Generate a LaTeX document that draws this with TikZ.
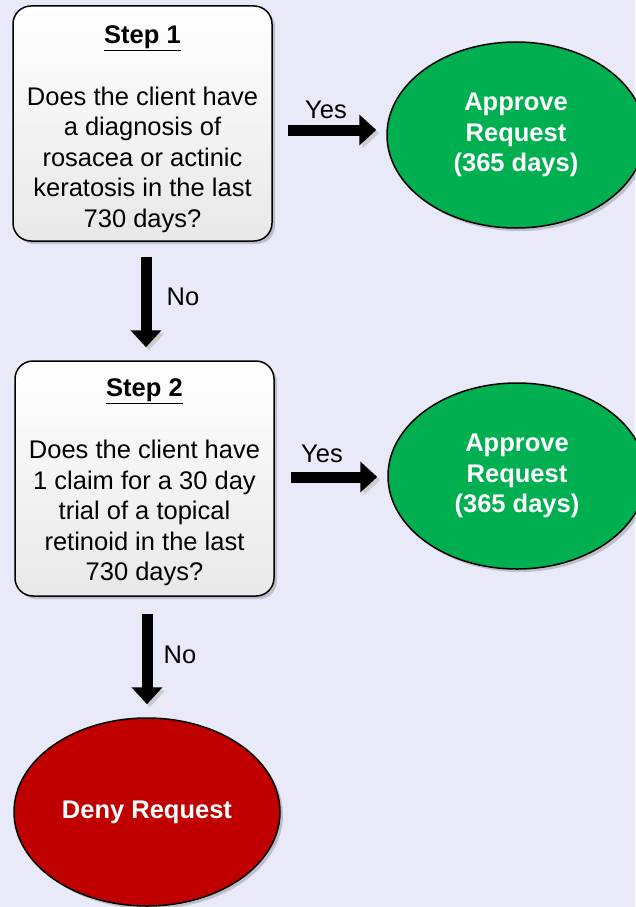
\documentclass[tikz,border=0pt]{standalone}
\usepackage{fontspec}
\setmainfont{Liberation Sans}
\usetikzlibrary{arrows.meta,shapes.geometric,shadows,calc}
\definecolor{bgcol}{HTML}{E9EAF9}
\definecolor{okgreen}{HTML}{00B050}
\definecolor{nored}{HTML}{C00000}
\tikzset{
  stepbox/.style={draw=black, line width=1.5pt, rounded corners=18pt,
    top color=white, bottom color=black!9,
    minimum width=259pt, minimum height=235pt,
    drop shadow={shadow xshift=3pt, shadow yshift=-3pt, opacity=0.18, fill=black}},
  boxtext/.style={align=center, inner sep=0pt, font=\fontsize{25.5}{30.5}\selectfont},
  endell/.style={ellipse, draw=black, line width=1.5pt, inner sep=0pt,
    minimum width=258pt, minimum height=186pt, align=center, text=white,
    font=\fontsize{25.5}{30.5}\selectfont\bfseries,
    drop shadow={shadow xshift=3pt, shadow yshift=-3pt, opacity=0.18, fill=black}},
  blockarrow/.style={line width=11pt, draw=black, -{Triangle[width=30pt,length=17pt]},
    preaction={draw=black!20, -{Triangle[width=30pt,length=17pt]},
      transform canvas={shift={(3pt,-3pt)}}}},
  lbl/.style={font=\fontsize{25.5}{30.5}\selectfont, inner sep=0pt}
}
\begin{document}
\begin{tikzpicture}[x=1pt,y=-1pt]
\fill[bgcol] (0,0) rectangle (635,907);
\useasboundingbox (0,0) rectangle (635,907);

\node[stepbox] (box1) at (142.5,123.5) {};
\node[boxtext] (box1t) at ($(box1.center)+(0,5.5)$) {\underline{\textbf{Step 1}}\\[31.5pt]Does the client have\\a diagnosis of\\rosacea or actinic\\keratosis in the last\\730 days?};
\node[endell, fill=okgreen] (ell1) at (516,135) {Approve\\Request\\(365 days)};

\node[stepbox] (box2) at (144.5,478.5) {};
\node[boxtext] (box2t) at ($(box2.center)+(0,4)$) {\underline{\textbf{Step 2}}\\[31.5pt]Does the client have\\1 claim for a 30 day\\trial of a topical\\retinoid in the last\\730 days?};
\node[endell, fill=okgreen] (ell2) at (517,476) {Approve\\Request\\(365 days)};

\node[endell, fill=nored, minimum width=266pt, minimum height=188pt] (deny) at (147,812) {\raisebox{-3pt}{Deny Request}};

\coordinate (a1s) at ($(box1.east)+(0,6.5)$);
\draw[blockarrow, shorten <=15pt, shorten >=10pt] (a1s) -- (a1s -| ell1.west);
\node[lbl] (yes1) at (326,110) {Yes};

\coordinate (d1s) at ($(box1.south)+(3.5,0)$);
\draw[blockarrow, shorten <=15pt, shorten >=13pt] (d1s) -- (d1s |- box2.north);
\node[lbl] (no1) at (183,297) {No};

\coordinate (a2s) at ($(box2.east)+(0,-1.5)$);
\draw[blockarrow, shorten <=16pt, shorten >=10pt] (a2s) -- (a2s -| ell2.west);
\node[lbl] (yes2) at (322,454) {Yes};

\coordinate (d2s) at ($(box2.south)+(2.5,0)$);
\draw[blockarrow, shorten <=17pt, shorten >=13pt] (d2s) -- (d2s |- deny.north);
\node[lbl] (no2) at (180,655) {No};
\end{tikzpicture}
\end{document}
